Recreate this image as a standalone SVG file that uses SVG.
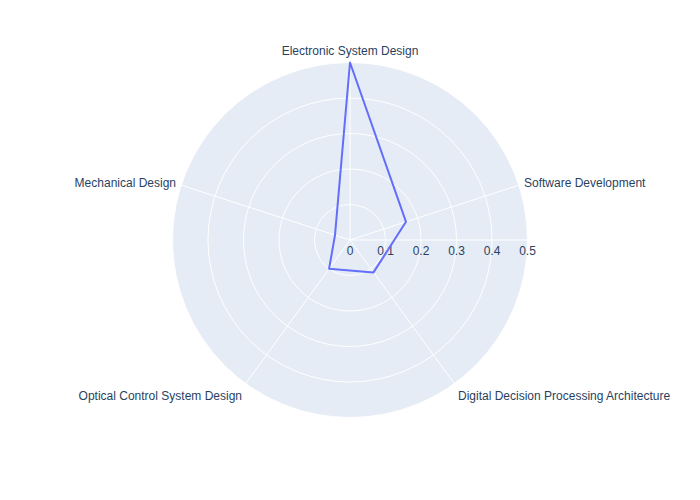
<svg xmlns="http://www.w3.org/2000/svg" width="700" height="500" viewBox="0 0 700 500">
<style>
.grid{fill:none;stroke:#ffffff;stroke-width:1}
.lbl{font-family:"Liberation Sans",Arial,sans-serif;font-size:12px;fill:#2a3f5f}
.tick{text-anchor:middle}
.trace{fill:none;stroke:#636efa;stroke-width:2;stroke-linejoin:round}
</style>
<rect width="700" height="500" fill="#ffffff"/>
<g id="polar-bg">
<circle cx="350" cy="240" r="177.5" fill="#E5ECF6"/>
</g>
<g id="grid">
<circle class="grid" cx="350" cy="240" r="35.5"/>
<circle class="grid" cx="350" cy="240" r="71"/>
<circle class="grid" cx="350" cy="240" r="106.5"/>
<circle class="grid" cx="350" cy="240" r="142"/>
<circle class="grid" cx="350" cy="240" r="177.5"/>
<line class="grid" x1="350" y1="240" x2="350" y2="62.5"/>
<line class="grid" x1="350" y1="240" x2="518.8" y2="185.15"/>
<line class="grid" x1="350" y1="240" x2="454.3" y2="383.6"/>
<line class="grid" x1="350" y1="240" x2="245.7" y2="383.6"/>
<line class="grid" x1="350" y1="240" x2="181.2" y2="185.15"/>
<line class="grid" x1="350" y1="240" x2="527.5" y2="240"/>
</g>
<g id="radial-ticks" class="lbl">
<text class="tick" x="350" y="255">0</text>
<text class="tick" x="385.5" y="255">0.1</text>
<text class="tick" x="421" y="255">0.2</text>
<text class="tick" x="456.5" y="255">0.3</text>
<text class="tick" x="492" y="255">0.4</text>
<text class="tick" x="527.5" y="255">0.5</text>
</g>
<g id="trace">
<polygon class="trace" points="350,62.5 406,221.8 373.5,272.4 329.1,268.7 335,235.1"/>
</g>
<g id="node-electronic"><text class="lbl" x="350" y="55" text-anchor="middle">Electronic System Design</text></g>
<g id="node-software"><text class="lbl" x="524" y="187" text-anchor="start">Software Development</text></g>
<g id="node-digital"><text class="lbl" x="458" y="400" text-anchor="start">Digital Decision Processing Architecture</text></g>
<g id="node-optical"><text class="lbl" x="242" y="400" text-anchor="end">Optical Control System Design</text></g>
<g id="node-mechanical"><text class="lbl" x="176" y="187" text-anchor="end">Mechanical Design</text></g>
</svg>
